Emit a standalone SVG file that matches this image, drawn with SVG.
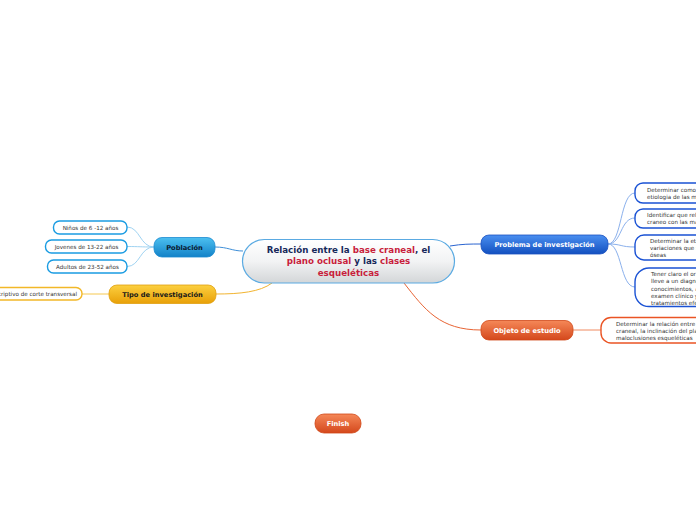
<svg xmlns="http://www.w3.org/2000/svg" width="696" height="520" viewBox="0 0 696 520">
<defs>
<linearGradient id="gCenter" x1="0" y1="0" x2="0" y2="1"><stop offset="0" stop-color="#ffffff"/><stop offset="0.5" stop-color="#f2f3f4"/><stop offset="1" stop-color="#d3d6d8"/></linearGradient>
<linearGradient id="gPob" x1="0" y1="0" x2="0" y2="1"><stop offset="0" stop-color="#4cc0f0"/><stop offset="1" stop-color="#1382c8"/></linearGradient>
<linearGradient id="gTipo" x1="0" y1="0" x2="0" y2="1"><stop offset="0" stop-color="#fcd040"/><stop offset="1" stop-color="#e8a008"/></linearGradient>
<linearGradient id="gProb" x1="0" y1="0" x2="0" y2="1"><stop offset="0" stop-color="#4a8ff0"/><stop offset="1" stop-color="#1350c0"/></linearGradient>
<linearGradient id="gObj" x1="0" y1="0" x2="0" y2="1"><stop offset="0" stop-color="#f58858"/><stop offset="1" stop-color="#d4481c"/></linearGradient>
</defs>
<style>
.lbl{font-family:"DejaVu Sans",Verdana,sans-serif;font-weight:bold;text-anchor:middle}
.sm{font-family:"DejaVu Sans",Verdana,sans-serif;font-size:5.6px;fill:#333}
.c{fill:none;stroke-width:1}
.box{fill:#fff;stroke-width:1.4}
</style>
<g id="connectors">
<path class="c" stroke="#3f8fd8" d="M215,247 C228,247 232,251 243,251"/>
<path class="c" stroke="#9fd3f2" d="M154,247 C140,247 140,227 127,227"/>
<path class="c" stroke="#9fd3f2" d="M154,247 C140,247 140,246.5 127,246.5"/>
<path class="c" stroke="#9fd3f2" d="M154,247 C140,247 140,266.5 127,266.5"/>
<path class="c" stroke="#f2b430" d="M272,283 C260,292 240,294 216,294"/>
<path class="c" stroke="#f5c850" d="M109,294 L82,294"/>
<path class="c" stroke="#2a64d0" d="M450,246 C462,244 470,244 481,244"/>
<path class="c" stroke="#8ab0ec" d="M608,244 C622,244 620,193 635,193"/>
<path class="c" stroke="#8ab0ec" d="M608,244 C622,244 620,218 635,218"/>
<path class="c" stroke="#8ab0ec" d="M608,244 C622,244 620,247 635,247"/>
<path class="c" stroke="#8ab0ec" d="M608,244 C622,244 620,287 635,287"/>
<path class="c" stroke="#e86434" d="M404,283 C425,310 440,330 481,330"/>
<path class="c" stroke="#f08a60" d="M573,330 L601,330"/>
</g>
<g id="central">
<rect x="242.5" y="239.5" width="212" height="43.5" rx="21.75" fill="url(#gCenter)" stroke="#5aaae2" stroke-width="1.2"/>
<text class="lbl" x="348.5" y="253" font-size="8.7" fill="#16285a">Relación entre la <tspan fill="#c81e3c">base craneal</tspan>, el</text>
<text class="lbl" x="348.5" y="264" font-size="8.7" fill="#16285a"><tspan fill="#c81e3c">plano oclusal</tspan> y las <tspan fill="#c81e3c">clases</tspan></text>
<text class="lbl" x="348.5" y="275.5" font-size="8.7" fill="#c81e3c">esqueléticas</text>
</g>
<g id="poblacion">
<rect x="154" y="237.5" width="61" height="19.5" rx="8" fill="url(#gPob)" stroke="#1a8ad0" stroke-width="0.8"/>
<text class="lbl" x="184.5" y="250" font-size="6.7" fill="#0a1a30">Población</text>
</g>
<g id="ninos">
<rect x="53.5" y="221" width="73.5" height="13" rx="6" class="box" stroke="#1a9ce2"/>
<text class="sm" x="90.5" y="229.6" text-anchor="middle">Niños de 6 -12 años</text>
</g>
<g id="jovenes">
<rect x="45.5" y="240" width="81.5" height="13" rx="6" class="box" stroke="#1a9ce2"/>
<text class="sm" x="86.5" y="248.6" text-anchor="middle">Jovenes de 13-22 años</text>
</g>
<g id="adultos">
<rect x="47.5" y="260" width="79.5" height="13" rx="6" class="box" stroke="#1a9ce2"/>
<text class="sm" x="87.5" y="268.6" text-anchor="middle">Adultos de 23-52 años</text>
</g>
<g id="tipo">
<rect x="109" y="285" width="107" height="18.5" rx="8" fill="url(#gTipo)" stroke="#e0a010" stroke-width="0.8"/>
<text class="lbl" x="162.5" y="296.5" font-size="6.7" fill="#1a1a1a">Tipo de investigación</text>
</g>
<g id="descriptivo">
<rect x="-40" y="287.5" width="122" height="12.5" rx="6" class="box" stroke="#f2b828"/>
<text class="sm" x="77" y="295.9" text-anchor="end">Descriptivo de corte transversal</text>
</g>
<g id="problema">
<rect x="481" y="235" width="127" height="19" rx="8" fill="url(#gProb)" stroke="#1a50c0" stroke-width="0.8"/>
<text class="lbl" x="544.5" y="247" font-size="6.7" fill="#ffffff">Problema de investigación</text>
</g>
<g id="prob1">
<rect x="635" y="183" width="80" height="20" rx="8" class="box" stroke="#1a52d4"/>
<text class="sm" x="647" y="192">Determinar como influye la base craneal en la</text>
<text class="sm" x="647" y="199">etiologia de las maloclusiones esqueléticas</text>
</g>
<g id="prob2">
<rect x="635" y="209" width="80" height="19" rx="8" class="box" stroke="#1a52d4"/>
<text class="sm" x="647" y="217">Identificar que relación tiene la base del</text>
<text class="sm" x="647" y="224">craneo con las maloclusiones</text>
</g>
<g id="prob3">
<rect x="635" y="235" width="80" height="25" rx="9" class="box" stroke="#1a52d4"/>
<text class="sm" x="650" y="243">Determinar la etiología de las</text>
<text class="sm" x="650" y="250">variaciones que se presentan en las clases</text>
<text class="sm" x="650" y="257">óseas</text>
</g>
<g id="prob4">
<rect x="635" y="268" width="80" height="38.5" rx="14" class="box" stroke="#1a52d4"/>
<text class="sm" x="651" y="275.5">Tener claro el origen de la maloclusión que nos</text>
<text class="sm" x="651" y="283">lleve a un diagnóstico acertado a partir de</text>
<text class="sm" x="651" y="290.5">conocimientos, análisis cefalométrico,</text>
<text class="sm" x="651" y="298">examen clínico y así realizar</text>
<text class="sm" x="651" y="305">tratamientos efectivos</text>
</g>
<g id="objeto">
<rect x="481" y="320.5" width="92" height="19.5" rx="8" fill="url(#gObj)" stroke="#d04818" stroke-width="0.8"/>
<text class="lbl" x="527" y="332.5" font-size="6.7" fill="#ffffff">Objeto de estudio</text>
</g>
<g id="objeto1">
<rect x="601" y="317.5" width="110" height="25.5" rx="10" class="box" stroke="#ea5424"/>
<text class="sm" x="616" y="326">Determinar la relación entre la base</text>
<text class="sm" x="616" y="333">craneal, la inclinación del plano oclusal y las</text>
<text class="sm" x="616" y="340">maloclusiones esqueléticas</text>
</g>
<g id="finish">
<rect x="315" y="414" width="46" height="19" rx="9" fill="url(#gObj)" stroke="#d04818" stroke-width="0.8"/>
<text class="lbl" x="338" y="426" font-size="6.7" fill="#ffffff">Finish</text>
</g>
</svg>
